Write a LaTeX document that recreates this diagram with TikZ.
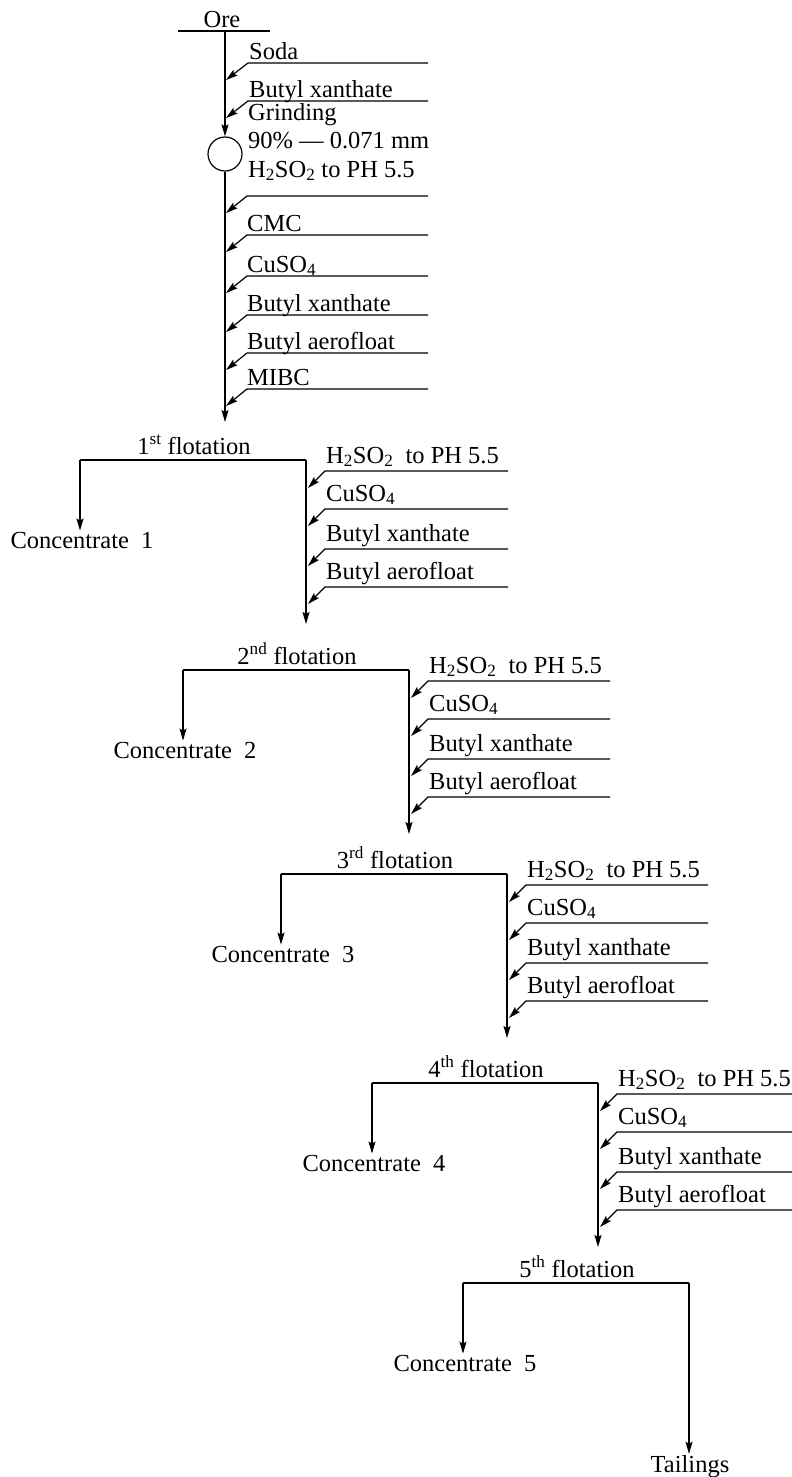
\documentclass[tikz,border=0pt]{standalone}
\usepackage{fontspec}
\setmainfont{Liberation Serif}
\usetikzlibrary{arrows.meta}
\begin{document}
\begin{tikzpicture}[x=1pt,y=-1pt,
  flow/.style={line width=1.2pt},
  arr/.style={flow,-{Stealth[length=12pt,width=7pt,inset=2pt]}},
  lbl/.style={inner sep=0pt,anchor=base west,font=\fontsize{24.5}{28}\selectfont},
  clbl/.style={inner sep=0pt,anchor=base,font=\fontsize{24.5}{28}\selectfont},
]
\useasboundingbox (0,0) rectangle (792,1477);

% ---- ore and grinding ----
\node[clbl] (ore) at (222,28) {Ore};
\coordinate (oreL) at (178,31);
\coordinate (oreR) at (270,31);
\coordinate (oreM) at (225,31);
\draw[flow] (oreL) -- (oreR);
\node[draw,circle,flow,minimum size=34pt,inner sep=0pt] (mill) at (225,154) {};
\draw[arr] (oreM) -- (mill.north);

\foreach \y/\t/\n in {63/Soda/ra,101/Butyl xanthate/rb}{
  \coordinate (\n-e) at (428,\y);
  \coordinate (\n-s) at (248,\y);
  \coordinate (\n-t) at (226,\y+17);
  \node[lbl] (\n-l) at (249,\y-3) {\t};
  \draw[arr] (\n-e) -- (\n-s) -- (\n-t);
}

\node[lbl] (grind) at (248,121) {Grinding};
\node[lbl] (size) at (248,148) {90\% — 0.071 mm};
\node[lbl] (acid0) at (248,177) {H\textsubscript{2}SO\textsubscript{2} to PH 5.5};

\foreach \y/\t/\n in {196//rc,235/CMC/rd,276/CuSO\textsubscript{4}/re,315/Butyl xanthate/rf,353/Butyl aerofloat/rg,389/MIBC/rh}{
  \coordinate (\n-e) at (428,\y);
  \coordinate (\n-s) at (247,\y);
  \coordinate (\n-t) at (226,\y+17);
  \node[lbl] (\n-l) at (247,\y-4) {\t};
  \draw[arr] (\n-e) -- (\n-s) -- (\n-t);
}

\coordinate (feed1) at (225,422);
\draw[arr] (mill.south) -- (feed1);

% ---- flotation stages ----
\foreach \k/\V/\S/\sp in {1/306/460/st,2/409/670/nd,3/507/874/rd,4/598/1083/th,5/689/1283/th}{
  \node[clbl] (fl\k) at (\V-112,\S-6) {\k\textsuperscript{\sp} flotation};
  \coordinate (sl\k) at (\V-226,\S);
  \coordinate (sr\k) at (\V,\S);
  \draw[flow] (sr\k) -- (sl\k);
  \node[clbl] (con\k) at (\V-224,\S+88) {Concentrate\ \ \k};
  \draw[arr] (sl\k) -- ([yshift=1pt]sl\k |- con\k.north);
}

\foreach \k/\V/\S/\R in {1/306/460/508,2/409/670/610,3/507/874/708,4/598/1083/792}{
  \coordinate (out\k) at (\V,\S+164);
  \draw[arr] (sr\k) -- (out\k);
  \foreach \dy/\t in {11/{H\textsubscript{2}SO\textsubscript{2}\ \ to PH 5.5},49/{CuSO\textsubscript{4}},89/{Butyl xanthate},127/{Butyl aerofloat}}{
    \coordinate (r\k-\dy-e) at (\R,\S+\dy);
    \coordinate (r\k-\dy-s) at (\V+19,\S+\dy);
    \coordinate (r\k-\dy-t) at (\V+2,\S+\dy+17);
    \node[lbl] (r\k-\dy-l) at (\V+20,\S+\dy-8) {\t};
    \draw[arr] (r\k-\dy-e) -- (r\k-\dy-s) -- (r\k-\dy-t);
  }
}

\node[clbl] (tail) at (690,1472) {Tailings};
\draw[arr] (sr5) -- ([yshift=1pt]sr5 |- tail.north);
\end{tikzpicture}
\end{document}
